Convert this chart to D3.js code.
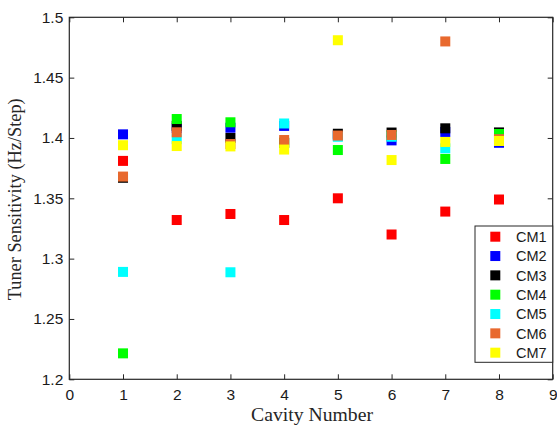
<!DOCTYPE html>
<html>
<head>
<meta charset="utf-8">
<script src="https://cdn.jsdelivr.net/npm/d3@7"></script>
<style>
html,body{margin:0;padding:0;background:#fff;}
svg{display:block;}
</style>
</head>
<body>
<svg id="chart" width="557" height="426"></svg>
<script>
const cavities = [1, 2, 3, 4, 5, 6, 7, 8];
const seriesNames = ["CM1", "CM2", "CM3", "CM4", "CM5", "CM6", "CM7"];
const seriesColors = ["#ff0000", "#0000ff", "#000000", "#00ff00", "#00ffff", "#e8692e", "#ffff00"];
const cm1 = [1.381, 1.332, 1.337, 1.332, 1.350, 1.320, 1.339, 1.349];
const cm2 = [1.403, 1.408, 1.4085, 1.410, 1.402, 1.398, 1.405, 1.396];
const cm3 = [1.367, 1.410, 1.400, 1.396, 1.4035, 1.4045, 1.408, 1.4046];
const cm4 = [1.2215, 1.4157, 1.413, 1.396, 1.390, 1.402, 1.3826, 1.4033];
const cm5 = [1.289, 1.399, 1.2887, 1.412, 1.401, 1.401, 1.3914, 1.398];
const cm6 = [1.368, 1.4047, 1.395, 1.3983, 1.402, 1.4025, 1.480, 1.399];
const cm7 = [1.394, 1.3933, 1.393, 1.3904, 1.481, 1.3817, 1.3967, 1.3975];
const allSeries = [cm1, cm2, cm3, cm4, cm5, cm6, cm7];
const xTicks = [0, 1, 2, 3, 4, 5, 6, 7, 8, 9];
const yTicks = [1.2, 1.25, 1.3, 1.35, 1.4, 1.45, 1.5];

const svg = d3.select("#chart");
const L = 69.3, R = 552.7, T = 17.3, B = 379.3;
const x = d3.scaleLinear().domain([0, 9]).range([L, R]);
const y = d3.scaleLinear().domain([1.2, 1.5]).range([B, T]);
const axisColor = "#262626";
const tickFont = "'Liberation Sans', Arial, sans-serif";
const serif = "'Liberation Serif', 'Times New Roman', serif";

// markers
const ms = 10;
allSeries.forEach((vals, si) => {
  svg.append("g").selectAll("rect").data(vals).enter().append("rect")
    .attr("x", (d, i) => x(cavities[i]) - ms / 2)
    .attr("y", d => y(d) - ms / 2)
    .attr("width", ms).attr("height", ms)
    .attr("fill", seriesColors[si]);
});

// axes
const gx = svg.append("g").attr("transform", `translate(0,${B})`)
  .call(d3.axisBottom(x).tickValues(xTicks).tickSizeInner(-5).tickSizeOuter(0).tickPadding(10).tickFormat(d3.format("d")));
const gxt = svg.append("g").attr("transform", `translate(0,${T})`)
  .call(d3.axisTop(x).tickValues(xTicks).tickSizeInner(-5).tickSizeOuter(0).tickFormat(""));
const gy = svg.append("g").attr("transform", `translate(${L},0)`)
  .call(d3.axisLeft(y).tickValues(yTicks).tickSizeInner(-5).tickSizeOuter(0).tickPadding(6).tickFormat(d => d3.format("")(+d.toFixed(2))));
const gyr = svg.append("g").attr("transform", `translate(${R},0)`)
  .call(d3.axisRight(y).tickValues(yTicks).tickSizeInner(-5).tickSizeOuter(0).tickFormat(""));
[gx, gxt, gy, gyr].forEach(g => {
  g.select(".domain").remove();
  g.selectAll("line").attr("stroke", axisColor).attr("stroke-width", 1);
  g.selectAll("text").attr("fill", "#1a1a1a").style("font-family", tickFont).style("font-size", "15.5px");
});
svg.append("rect").attr("x", L).attr("y", T).attr("width", R - L).attr("height", B - T)
  .attr("fill", "none").attr("stroke", axisColor).attr("stroke-width", 1.2);

// axis labels, sized to match the reference's text widths
function fitText(sel, target) {
  const w = sel.node().getComputedTextLength();
  sel.style("font-size", (17 * target / w).toFixed(2) + "px");
}
const xl = svg.append("text").attr("x", (L + R) / 2 + 1).attr("y", 421).attr("text-anchor", "middle")
  .style("font-family", serif).style("font-size", "17px").attr("fill", "#262626").text("Cavity Number");
fitText(xl, 122);
const yl = svg.append("text").attr("transform", `translate(20.5,${(T + B) / 2 + 1}) rotate(-90)`).attr("text-anchor", "middle")
  .style("font-family", serif).style("font-size", "17px").attr("fill", "#262626").text("Tuner Sensitivity (Hz/Step)");
fitText(yl, 202);

// legend
const lg = svg.append("g");
lg.append("rect").attr("x", 475).attr("y", 226).attr("width", R - 475).attr("height", 136.3)
  .attr("fill", "#fff").attr("stroke", axisColor).attr("stroke-width", 1);
seriesNames.forEach((n, i) => {
  const cy = 236.7 + i * 19.33;
  lg.append("rect").attr("x", 495.3 - ms / 2).attr("y", cy - ms / 2).attr("width", ms).attr("height", ms)
    .attr("fill", seriesColors[i]);
  lg.append("text").attr("x", 516).attr("y", cy + 5.2).style("font-family", tickFont).style("font-size", "14.5px")
    .attr("fill", "#1a1a1a").text(n);
});
</script>
</body>
</html>
